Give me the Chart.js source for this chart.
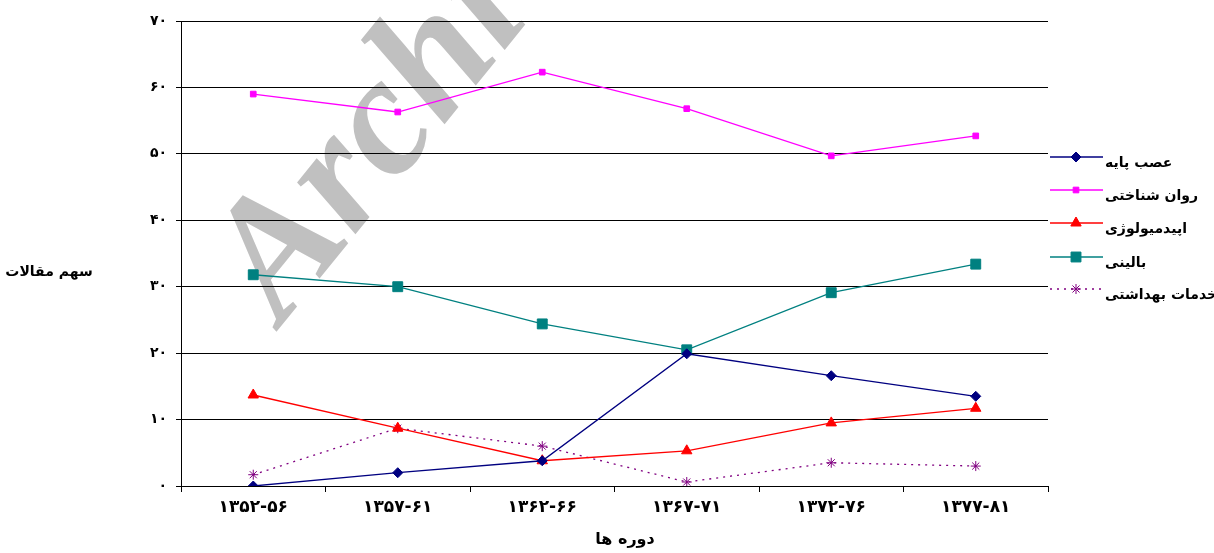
<!DOCTYPE html>
<html>
<head>
<meta charset="utf-8">
<script src="https://cdn.jsdelivr.net/npm/chart.js@4"></script>
<style>
html,body{margin:0;padding:0;background:#fff;}
#wrap{width:1214px;height:553px;position:relative;}
</style>
</head>
<body>
<div id="wrap"><canvas id="c" width="1214" height="553"></canvas></div>
<script>
const categories = ['۱۳۵۲-۵۶','۱۳۵۷-۶۱','۱۳۶۲-۶۶','۱۳۶۷-۷۱','۱۳۷۲-۷۶','۱۳۷۷-۸۱'];
const yTickLabels = ['۰','۱۰','۲۰','۳۰','۴۰','۵۰','۶۰','۷۰'];
const seriesNames = ['عصب پایه','روان شناختی','اپیدمیولوژی','بالینی','خدمات بهداشتی'];
const neuro = [0, 2.0, 3.8, 19.9, 16.6, 13.5];
const psych = [59.0, 56.3, 62.3, 56.8, 49.7, 52.7];
const epid = [13.7, 8.7, 3.8, 5.3, 9.5, 11.7];
const clinical = [31.8, 30.0, 24.4, 20.5, 29.1, 33.4];
const health = [1.7, 8.7, 6.0, 0.6, 3.5, 3.0];
const xTitle = 'دوره ها';
const yTitle = 'سهم مقالات';
const watermark = 'Archive of SID';

const FONT = '"DejaVu Sans", "Liberation Sans", sans-serif';

const styles = [
  {color:'#000080', point:'rectRot', r:5, dash:[]},
  {color:'#FF00FF', point:'rect', r:4, dash:[]},
  {color:'#FF0000', point:'triangle', r:6, dash:[]},
  {color:'#008080', point:'rect', r:7, dash:[]},
  {color:'#800080', point:'star', r:5, dash:[2,5]}
];
const values = [neuro, psych, epid, clinical, health];

const datasets = values.map((v,i)=>({
  label: seriesNames[i],
  data: v,
  borderColor: styles[i].color,
  backgroundColor: styles[i].color,
  pointBackgroundColor: styles[i].color,
  pointBorderColor: styles[i].color,
  pointStyle: styles[i].point,
  pointRadius: styles[i].r,
  pointBorderWidth: 1,
  borderWidth: 1.3,
  borderDash: styles[i].dash,
  tension: 0,
  fill: false
}));

const legendRows = [157, 190, 223, 257, 289];

const extras = {
  id:'extras',
  beforeDraw(chart){
    const ctx = chart.ctx;
    ctx.save();
    ctx.fillStyle = '#fff';
    ctx.fillRect(0,0,chart.width,chart.height);
    ctx.translate(282, 325);
    ctx.rotate(-51*Math.PI/180);
    ctx.font = 'italic bold 170px "Liberation Serif", "DejaVu Serif", serif';
    ctx.fillStyle = '#c0c0c0';
    ctx.textBaseline = 'alphabetic';
    ctx.textAlign = 'left';
    ctx.fillText(watermark, 0, 0);
    ctx.restore();
  },
  afterDraw(chart){
    const ctx = chart.ctx;
    ctx.save();
    ctx.fillStyle = '#000';
    ctx.textAlign = 'center';
    ctx.textBaseline = 'middle';
    ctx.font = 'bold 16px ' + FONT;
    ctx.fillText(xTitle, 625, 540);
    ctx.font = 'bold 14px ' + FONT;
    ctx.fillText(yTitle, 49, 272);
    chart.data.datasets.forEach((ds,i)=>{
      const y = legendRows[i];
      ctx.save();
      ctx.strokeStyle = ds.borderColor;
      ctx.lineWidth = ds.borderWidth;
      ctx.setLineDash(ds.borderDash || []);
      ctx.beginPath();
      ctx.moveTo(1050, y);
      ctx.lineTo(1103, y);
      ctx.stroke();
      ctx.setLineDash([]);
      ctx.fillStyle = ds.borderColor;
      ctx.strokeStyle = ds.borderColor;
      ctx.lineWidth = 1;
      Chart.helpers.drawPoint(ctx, {pointStyle: ds.pointStyle, radius: ds.pointRadius, borderWidth: 1, rotation: 0}, 1076, y);
      ctx.restore();
      ctx.save();
      ctx.fillStyle = '#000';
      ctx.font = 'bold 14px ' + FONT;
      ctx.textAlign = 'left';
      ctx.textBaseline = 'middle';
      ctx.fillText(ds.label, 1105, y + 6);
      ctx.restore();
    });
    ctx.restore();
  }
};

new Chart(document.getElementById('c'), {
  type:'line',
  data:{labels:categories, datasets},
  options:{
    responsive:false,
    animation:false,
    devicePixelRatio:1,
    layout:{padding:{top:21,right:166,bottom:0,left:0}},
    plugins:{legend:{display:false}, tooltip:{enabled:false}, title:{display:false}},
    scales:{
      x:{
        type:'category',
        offset:true,
        grid:{display:true, drawOnChartArea:false, drawTicks:true, tickLength:6, offset:true, color:'#000', lineWidth:1},
        border:{display:true, color:'#000', width:1},
        ticks:{color:'#000', font:{family:FONT, size:17, weight:'bold'}, padding:5, maxRotation:0, autoSkip:false},
        afterFit(s){ s.height = 67; }
      },
      y:{
        min:0, max:70,
        ticks:{stepSize:10, color:'#000', font:{family:FONT, size:14, weight:'bold'}, padding:9,
          callback:(v,i)=>yTickLabels[i]},
        grid:{color:'#000', lineWidth:1, drawTicks:true, tickLength:5},
        border:{display:true, color:'#000', width:1},
        afterFit(s){ s.width = 181; }
      }
    }
  },
  plugins:[extras]
});
</script>
</body>
</html>
